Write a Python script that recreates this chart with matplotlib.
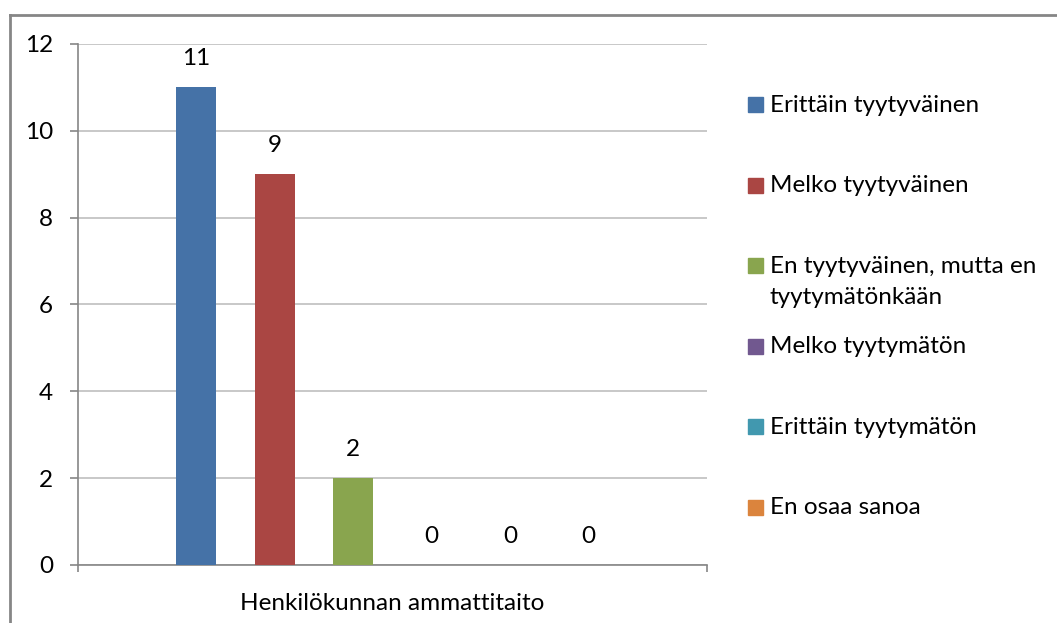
import matplotlib.pyplot as plt
from matplotlib.lines import Line2D
from matplotlib.patches import Rectangle

# data
category = 'Henkilökunnan ammattitaito'
series = ['Erittäin tyytyväinen', 'Melko tyytyväinen',
          'En tyytyväinen, mutta en\ntyytymätönkään', 'Melko tyytymätön',
          'Erittäin tyytymätön', 'En osaa sanoa']
values = [11, 9, 2, 0, 0, 0]
colors = ['#4572A7', '#AA4643', '#89A54E', '#71588F', '#4198AF', '#DB843D']

plt.rcParams['font.family'] = ['Lato', 'DejaVu Sans']
FS = 17.5
GRID = '#BFBFBF'
AXIS = '#868686'

fig = plt.figure(figsize=(10.57, 6.23), dpi=100)
ax = fig.add_axes([0.0738, 0.0931, 0.5951, 0.8363])

step = 0.1248
width = 0.0636
n = len(values)
xs = [0.5 + (i - (n - 1) / 2) * step for i in range(n)]
ax.bar(xs, values, width=width, color=colors, zorder=3)

for x, v in zip(xs, values):
    ax.annotate(str(v), (x, v), xytext=(0, 20.5), textcoords='offset points',
                ha='center', va='center', fontsize=FS, color='black')

ax.set_xlim(0, 1)
ax.set_ylim(0, 12)
ax.set_yticks(range(0, 13, 2))
ax.yaxis.grid(True, color=GRID, linewidth=1.2, zorder=0)
ax.tick_params(axis='y', length=6, width=1.2, color=AXIS, pad=12, labelsize=FS)

ax.set_xticks([0.5])
ax.set_xticklabels([category], fontsize=FS)
ax.set_xticks([0, 1], minor=True)
ax.tick_params(axis='x', which='major', length=0, pad=20)
ax.tick_params(axis='x', which='minor', length=5, width=1.2, color=AXIS)

for s in ['top', 'right']:
    ax.spines[s].set_visible(False)
for s in ['left', 'bottom']:
    ax.spines[s].set_color(AXIS)
    ax.spines[s].set_linewidth(1.2)

# legend drawn by hand, Excel style
W, H = 1057, 623
y0 = 104.5
pitch = 80.6
for i, (lab, c) in enumerate(zip(series, colors)):
    yc = y0 + i * pitch
    fig.patches.append(Rectangle((748 / W, 1 - (yc + 7.5) / H), 15 / W, 15 / H,
                                 transform=fig.transFigure, color=c))
    fig.text(770 / W, 1 - (yc - 10) / H, lab, fontsize=FS, va='top', ha='left',
             linespacing=1.6)

# outer chart border (partly cropped)
fig.lines.append(Line2D([9.5 / W, 9.5 / W], [0, 1 - 14.5 / H], transform=fig.transFigure,
                        color=AXIS, linewidth=2))
fig.lines.append(Line2D([9.5 / W, 1], [1 - 14.5 / H, 1 - 14.5 / H], transform=fig.transFigure,
                        color=AXIS, linewidth=2))

fig.savefig('out.png', dpi=100)
